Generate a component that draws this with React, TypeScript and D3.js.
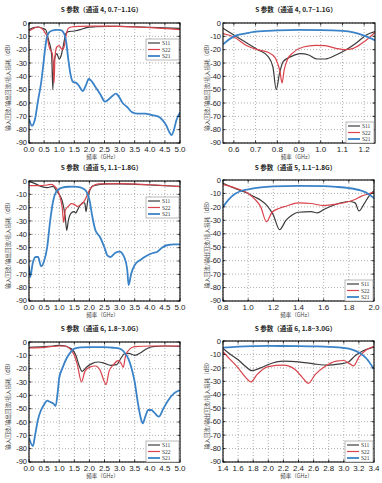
import React from "react";
import * as d3 from "d3";

type Pt = [number, number];

// ---------- data (frequency GHz, dB) ----------
const ch4WideS11: Pt[] = [[0,-5],[0.15,-3.5],[0.3,-3],[0.45,-4],[0.55,-5],[0.6,-8],[0.65,-13],[0.7,-17],[0.75,-24],[0.79,-50],[0.82,-30],[0.87,-25],[0.92,-23],[1.0,-27],[1.07,-24],[1.12,-19],[1.17,-13],[1.22,-8],[1.3,-6.5],[1.5,-6],[1.7,-5],[1.9,-3.5],[2.2,-2.8],[2.6,-2.5],[3,-2.6],[3.5,-2.8],[4,-3.2],[4.5,-3.6],[5,-4]];
const ch4WideS22: Pt[] = [[0,-6],[0.15,-4],[0.3,-3],[0.45,-4.5],[0.55,-8],[0.6,-10],[0.65,-16],[0.7,-20],[0.76,-22],[0.8,-30],[0.83,-45],[0.86,-25],[0.92,-18],[1.0,-17],[1.06,-19],[1.11,-20],[1.16,-18],[1.2,-13],[1.25,-7],[1.3,-4],[1.4,-3],[1.7,-2.5],[2,-2.3],[3,-2.5],[4,-3.5],[5,-5]];
const ch4WideS21: Pt[] = [[0,-72],[0.1,-77],[0.2,-72],[0.3,-58],[0.4,-45],[0.47,-32],[0.53,-20],[0.58,-12],[0.65,-7.5],[0.75,-5.8],[0.9,-5.2],[1.05,-5.4],[1.12,-6.5],[1.18,-9],[1.23,-14],[1.3,-27],[1.37,-38],[1.45,-44],[1.57,-45],[1.65,-47],[1.78,-51],[1.88,-47],[1.98,-42],[2.05,-43],[2.2,-48],[2.35,-53],[2.52,-59],[2.6,-58],[2.75,-55],[2.88,-53],[2.97,-55],[3.1,-60],[3.25,-63],[3.42,-67],[3.6,-68],[3.85,-68],[4.05,-69],[4.27,-70],[4.43,-73],[4.55,-77],[4.65,-82],[4.72,-84],[4.8,-80],[4.88,-73],[5.0,-67]];

const ch4S11: Pt[] = [[0.55,-4],[0.6,-9],[0.66,-15],[0.71,-20],[0.757,-25],[0.78,-33],[0.795,-50],[0.81,-38],[0.827,-29],[0.866,-25],[0.906,-23],[0.945,-24],[0.984,-27],[1.02,-27],[1.07,-24],[1.117,-20],[1.164,-15],[1.21,-9],[1.25,-6.5]];
const ch4S22: Pt[] = [[0.55,-8],[0.6,-10.5],[0.66,-17],[0.71,-20],[0.757,-22],[0.79,-26],[0.803,-31],[0.812,-36],[0.822,-45],[0.832,-35],[0.848,-27],[0.875,-22],[0.92,-18],[0.976,-16.8],[1.02,-17],[1.07,-19],[1.11,-20],[1.15,-19],[1.2,-14],[1.25,-7]];
const ch4S21: Pt[] = [[0.55,-16],[0.6,-10],[0.65,-8],[0.7,-6.5],[0.8,-5.6],[0.9,-5.2],[1.0,-5.3],[1.1,-5.9],[1.15,-7],[1.2,-9.5],[1.25,-13]];

const ch5WideS11: Pt[] = [[0,-0.5],[0.2,-2],[0.4,-4],[0.6,-5],[0.8,-4],[0.9,-7],[1.0,-10],[1.1,-15],[1.15,-20],[1.2,-27],[1.25,-37],[1.3,-30],[1.4,-24],[1.5,-23],[1.55,-24],[1.6,-22],[1.7,-18],[1.8,-16],[1.85,-17],[1.89,-23],[1.93,-17],[2.0,-8],[2.1,-4],[2.3,-2.8],[2.6,-2.2],[3,-2.2],[3.5,-2.5],[4,-3],[4.5,-3.5],[5,-4]];
const ch5WideS22: Pt[] = [[0,-3.5],[0.3,-3.5],[0.6,-3],[0.75,-2.5],[0.85,-4],[0.95,-7],[1.0,-10],[1.05,-14],[1.1,-20],[1.15,-31],[1.2,-22],[1.3,-19],[1.4,-17],[1.5,-17.5],[1.6,-19],[1.7,-18],[1.8,-16],[1.9,-12],[1.95,-9],[2.0,-7],[2.1,-4],[2.3,-2.2],[3,-2],[4,-2.8],[5,-4.2]];
const ch5WideS21: Pt[] = [[0,-64],[0.04,-72],[0.12,-62],[0.22,-57],[0.3,-57],[0.4,-64],[0.5,-60],[0.6,-50],[0.7,-30],[0.8,-15],[0.9,-8],[1.0,-6],[1.1,-5],[1.3,-4.3],[1.5,-4.2],[1.7,-4.8],[1.8,-5.8],[1.9,-8],[2.0,-14],[2.1,-27],[2.2,-37],[2.35,-42],[2.5,-50],[2.6,-56],[2.7,-57],[2.85,-54],[3.0,-53],[3.15,-57],[3.25,-66],[3.3,-78],[3.38,-70],[3.5,-63],[3.7,-59],[3.9,-56],[4.1,-54],[4.25,-53],[4.4,-50],[4.6,-48],[4.8,-47.5],[5.0,-47.5]];

const ch5S11: Pt[] = [[0.8,-2.5],[0.85,-4.5],[0.9,-6.5],[1.0,-10],[1.05,-12.5],[1.1,-15],[1.15,-19],[1.2,-26],[1.25,-37],[1.3,-30],[1.35,-26],[1.4,-24],[1.5,-23.5],[1.55,-24.5],[1.6,-22],[1.7,-18],[1.8,-16],[1.85,-17],[1.88,-23],[1.92,-18],[1.96,-12],[2.0,-8]];
const ch5S22: Pt[] = [[0.8,-3.5],[0.85,-4.5],[0.9,-6],[1.0,-10],[1.05,-14],[1.1,-20],[1.145,-31],[1.19,-24],[1.25,-21],[1.3,-19.5],[1.4,-17],[1.5,-17.5],[1.6,-19],[1.7,-18],[1.8,-16],[1.85,-14.5],[1.9,-12],[1.95,-10.5],[2.0,-9]];
const ch5S21: Pt[] = [[0.8,-20],[0.85,-14],[0.9,-10],[0.95,-8],[1.0,-7],[1.1,-5.5],[1.2,-4.8],[1.4,-4.4],[1.6,-4.6],[1.7,-5.1],[1.8,-6],[1.9,-8],[1.95,-10],[2.0,-13.5]];

const ch6WideS11: Pt[] = [[0,-4],[0.5,-3.5],[0.8,-3],[1.0,-2.5],[1.2,-3],[1.3,-4],[1.45,-6],[1.55,-10],[1.65,-17],[1.76,-22],[1.9,-19],[2.1,-16],[2.3,-15],[2.5,-16],[2.7,-17.5],[2.9,-17],[3.05,-12],[3.15,-9],[3.3,-8.5],[3.5,-10],[3.7,-8],[3.9,-5],[4.1,-3.5],[4.5,-3],[5,-3.3]];
const ch6WideS22: Pt[] = [[0,-4.5],[0.5,-4],[1.0,-3],[1.2,-3],[1.35,-5],[1.5,-10],[1.6,-17],[1.74,-30],[1.85,-22],[2.0,-19],[2.2,-18],[2.35,-21],[2.5,-30],[2.55,-32],[2.65,-22],[2.8,-17],[2.95,-14],[3.05,-16],[3.12,-19],[3.2,-10],[3.35,-5],[3.5,-3.5],[4,-3],[5,-3]];
const ch6WideS21: Pt[] = [[0,-72],[0.13,-78],[0.2,-70],[0.3,-58],[0.4,-51],[0.5,-47],[0.6,-44],[0.7,-45],[0.8,-46],[0.88,-48],[0.95,-38],[1.0,-27],[1.1,-20],[1.25,-12],[1.4,-7],[1.5,-5],[1.7,-4],[2.0,-3.8],[2.5,-3.8],[2.8,-4.3],[3.0,-5],[3.15,-7.5],[3.3,-13],[3.4,-20],[3.5,-30],[3.6,-45],[3.7,-57],[3.77,-61],[3.85,-56],[3.95,-51],[4.05,-51],[4.15,-53],[4.3,-56],[4.45,-50],[4.6,-44],[4.8,-38.5],[5.0,-36]];

const ch6S11: Pt[] = [[1.4,-5.5],[1.5,-10],[1.6,-14],[1.7,-19],[1.78,-22],[1.9,-20],[2.0,-17.5],[2.2,-15],[2.4,-15.5],[2.6,-17],[2.8,-18],[2.95,-17],[3.05,-16],[3.15,-11],[3.25,-7.5],[3.4,-4.5]];
const ch6S22: Pt[] = [[1.4,-8],[1.5,-14],[1.6,-20],[1.7,-27],[1.77,-30.5],[1.85,-25],[2.0,-19],[2.2,-18],[2.35,-21],[2.45,-27],[2.53,-31.5],[2.62,-25],[2.75,-19],[2.9,-15],[3.0,-14.5],[3.08,-17],[3.13,-18.5],[3.2,-12],[3.3,-6.5],[3.4,-4]];
const ch6S21: Pt[] = [[1.4,-5],[1.6,-4.2],[1.8,-3.8],[2.0,-3.7],[2.4,-3.8],[2.6,-4],[2.8,-4.3],[3.0,-5.2],[3.1,-6.2],[3.2,-8.5],[3.3,-13],[3.4,-21]];

// ---------- ticks & labels ----------
const wideTicks = [0, 0.5, 1, 1.5, 2, 2.5, 3, 3.5, 4, 4.5, 5];
const ch4Ticks = [0.6, 0.7, 0.8, 0.9, 1.0, 1.1, 1.2];
const ch5Ticks = [0.8, 1.0, 1.2, 1.4, 1.6, 1.8, 2.0];
const ch6Ticks = [1.4, 1.6, 1.8, 2.0, 2.2, 2.4, 2.6, 2.8, 3.0, 3.2, 3.4];
const dbTicks = [0, -10, -20, -30, -40, -50, -60, -70, -80, -90];
const seriesNames = ["S11", "S22", "S21"];
const titles = ["S 参数（通道 4, 0.7~1.1G）", "S 参数（通道 5, 1.1~1.8G）", "S 参数（通道 6, 1.8~3.0G）"];
const yLabel = "输入回波/输出回波/插入损耗（dB）";
const xLabel = "频率（GHz）";

const COLORS = ["#3c3c3c", "#d9434c", "#3a83c8"];
const WIDTHS = [1.2, 1.2, 1.8];

type PanelCfg = {
  id: string; left: number; right: number; top: number; bottom: number;
  domain: [number, number]; ticks: number[]; title: string;
  series: Pt[][]; legend: "top" | "bottom"; legendW: number; yLabX: number; titleY: number;
};

const panels: PanelCfg[] = [
  { id: "p1", left: 29, right: 180, top: 23, bottom: 143, domain: [0, 5], ticks: wideTicks, title: titles[0], series: [ch4WideS11, ch4WideS22, ch4WideS21], legend: "top", legendW: 33, yLabX: 8, titleY: 12 },
  { id: "p2", left: 223, right: 375, top: 23, bottom: 143, domain: [0.55, 1.25], ticks: ch4Ticks, title: titles[0], series: [ch4S11, ch4S22, ch4S21], legend: "bottom", legendW: 28, yLabX: 207, titleY: 12 },
  { id: "p3", left: 29, right: 180, top: 181, bottom: 301, domain: [0, 5], ticks: wideTicks, title: titles[1], series: [ch5WideS11, ch5WideS22, ch5WideS21], legend: "top", legendW: 33, yLabX: 8, titleY: 170 },
  { id: "p4", left: 223, right: 374, top: 180, bottom: 301, domain: [0.8, 2.0], ticks: ch5Ticks, title: titles[1], series: [ch5S11, ch5S22, ch5S21], legend: "bottom", legendW: 28, yLabX: 207, titleY: 170 },
  { id: "p5", left: 29, right: 180, top: 342, bottom: 462, domain: [0, 5], ticks: wideTicks, title: titles[2], series: [ch6WideS11, ch6WideS22, ch6WideS21], legend: "bottom", legendW: 33, yLabX: 8, titleY: 331 },
  { id: "p6", left: 223, right: 374, top: 341, bottom: 462, domain: [1.4, 3.4], ticks: ch6Ticks, title: titles[2], series: [ch6S11, ch6S22, ch6S21], legend: "bottom", legendW: 28, yLabX: 207, titleY: 331 },
];

const tickFont = "'Liberation Sans', Arial, sans-serif";
const cjkFont = "'Noto Sans CJK SC', 'Noto Sans', sans-serif";

function Panel({ p }: { p: PanelCfg }) {
  const x = d3.scaleLinear().domain(p.domain).range([p.left, p.right]);
  const y = d3.scaleLinear().domain([-90, 0]).range([p.bottom, p.top]);
  const line = d3.line<Pt>().x(d => x(d[0])).y(d => y(d[1])).curve(d3.curveMonotoneX);
  const cx = (p.left + p.right) / 2;
  const cy = (p.top + p.bottom) / 2;
  const lw = p.legendW, lh = 21;
  const lx = p.right - lw - 1;
  const ly = p.legend === "top" ? p.top + 16 : p.bottom - lh;
  const fmt = d3.format(".1f");
  return (
    <g>
      <defs>
        <clipPath id={"clip-" + p.id}>
          <rect x={p.left} y={p.top} width={p.right - p.left} height={p.bottom - p.top} />
        </clipPath>
      </defs>
      <rect x={p.left} y={p.top} width={p.right - p.left} height={p.bottom - p.top} fill="#fff" />
      {p.ticks.map(t => (
        <line key={"gx" + t} x1={x(t)} x2={x(t)} y1={p.top} y2={p.bottom} stroke="#9a9a9a" strokeWidth={0.8} strokeDasharray="1,2" />
      ))}
      {dbTicks.map(t => (
        <line key={"gy" + t} x1={p.left} x2={p.right} y1={y(t)} y2={y(t)} stroke="#9a9a9a" strokeWidth={0.8} strokeDasharray="1,2" />
      ))}
      <g clipPath={`url(#clip-${p.id})`}>
        {p.series.map((s, i) => (
          <path key={i} d={line(s) || ""} fill="none" stroke={COLORS[i]} strokeWidth={WIDTHS[i]} strokeLinejoin="round" />
        ))}
      </g>
      {p.ticks.map(t => (
        <g key={"tx" + t}>
          <line x1={x(t)} x2={x(t)} y1={p.bottom} y2={p.bottom - 2.5} stroke="#000" strokeWidth={0.8} />
          <line x1={x(t)} x2={x(t)} y1={p.top} y2={p.top + 2.5} stroke="#000" strokeWidth={0.8} />
          <text x={x(t)} y={p.bottom + 9} fontSize={8} fontFamily={tickFont} textAnchor="middle" fill="#222">{fmt(t)}</text>
        </g>
      ))}
      {dbTicks.map(t => (
        <g key={"ty" + t}>
          <line x1={p.left} x2={p.left + 2.5} y1={y(t)} y2={y(t)} stroke="#000" strokeWidth={0.8} />
          <line x1={p.right} x2={p.right - 2.5} y1={y(t)} y2={y(t)} stroke="#000" strokeWidth={0.8} />
          <text x={p.left - 2} y={y(t) + (t === -90 ? 1.5 : 2.7)} fontSize={7.5} fontFamily={tickFont} textAnchor="end" fill="#222">{String(t)}</text>
        </g>
      ))}
      <rect x={p.left} y={p.top} width={p.right - p.left} height={p.bottom - p.top} fill="none" stroke="#000" strokeWidth={1.1} />
      <g>
        <rect x={lx} y={ly} width={lw} height={lh} fill="#fff" stroke="#8a8a8a" strokeWidth={0.6} />
        {seriesNames.map((n, i) => (
          <g key={n}>
            <line x1={lx + 2} x2={lx + 14} y1={ly + 4 + i * 6.5} y2={ly + 4 + i * 6.5} stroke={COLORS[i]} strokeWidth={WIDTHS[i]} />
            <text x={lx + 16} y={ly + 6 + i * 6.5} fontSize={5.5} fontFamily="'Liberation Serif', serif" fill="#333">{n}</text>
          </g>
        ))}
      </g>
      <text x={cx - 3} y={p.titleY} fontSize={6.5} fontWeight={700} fontFamily={cjkFont} textAnchor="middle" fill="#222">{p.title}</text>
      <text x={cx - 2} y={p.bottom + 16} fontSize={5.5} fontFamily={cjkFont} textAnchor="middle" fill="#444">{xLabel}</text>
      <text transform={`translate(${p.yLabX},${cy + 3}) rotate(-90)`} fontSize={5.6} fontFamily={cjkFont} textAnchor="middle" dominantBaseline="middle" fill="#444">{yLabel}</text>
    </g>
  );
}

export default function App() {
  return (
    <svg width={382} height={483} style={{ position: "absolute", left: 0, top: 0, background: "#fff" }}>
      <rect x={0} y={0} width={382} height={483} fill="#fff" />
      {panels.map(p => <Panel key={p.id} p={p} />)}
    </svg>
  );
}
